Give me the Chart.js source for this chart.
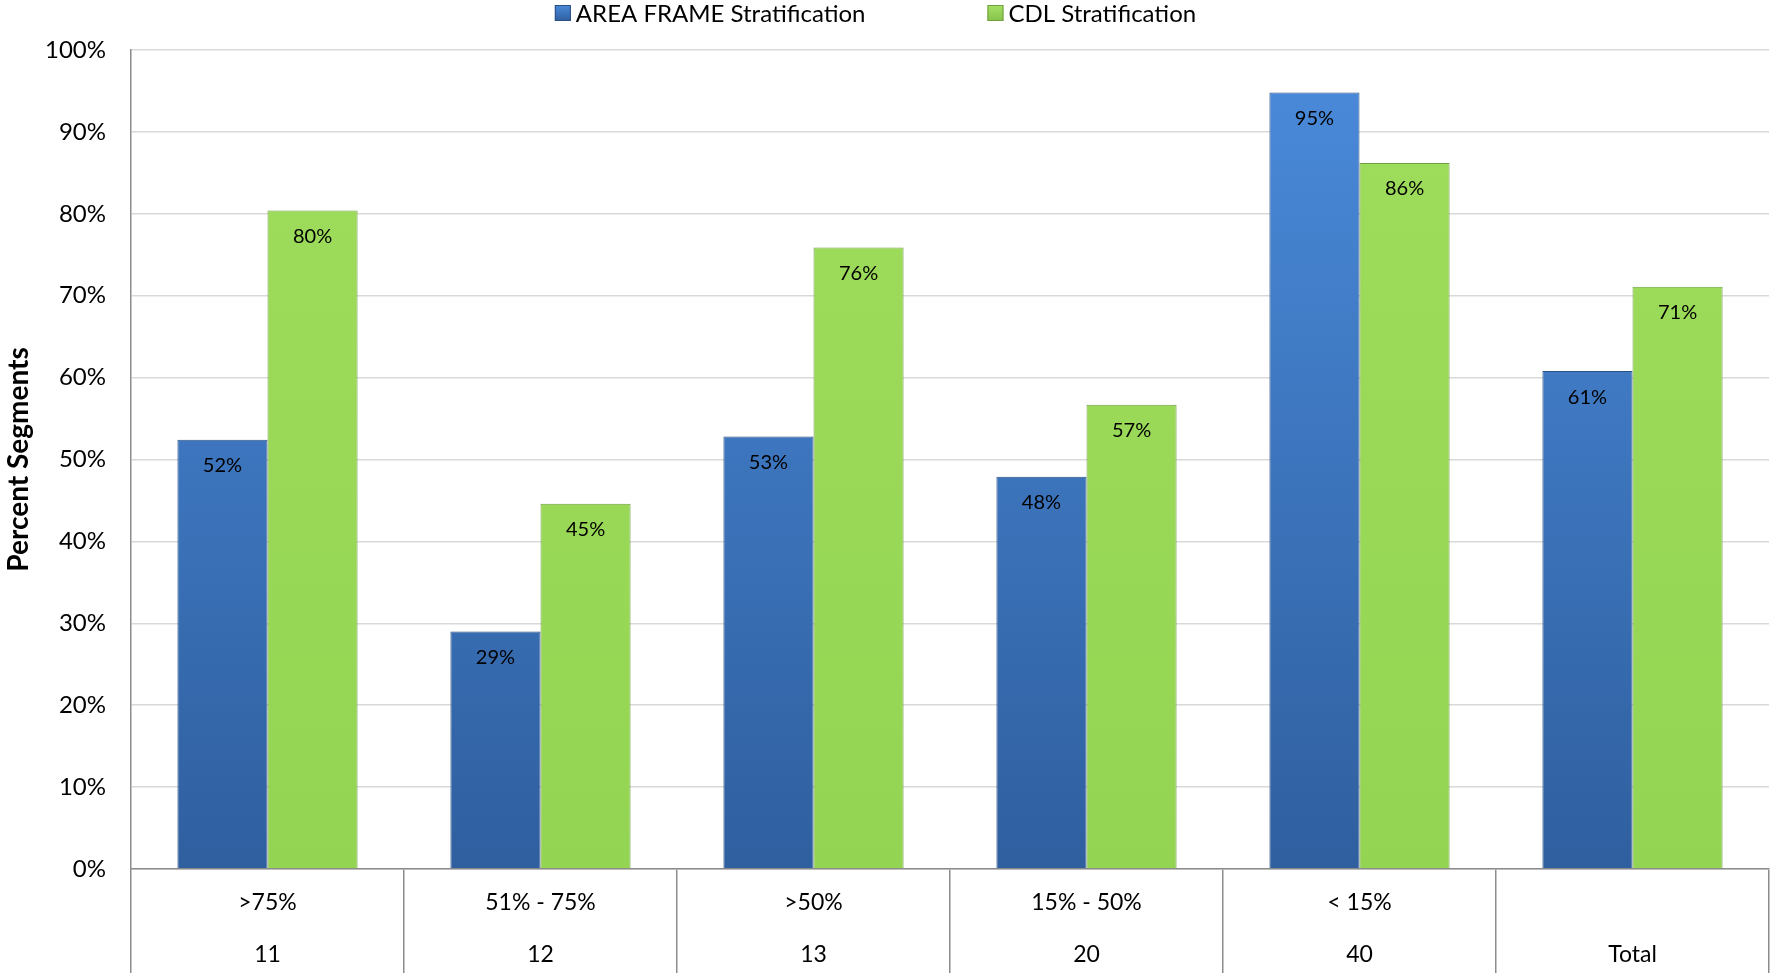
<!DOCTYPE html>
<html>
<head>
<meta charset="utf-8">
<script src="https://cdn.jsdelivr.net/npm/chart.js@4.4.0/dist/chart.umd.min.js"></script>
<style>
  html, body { margin: 0; padding: 0; background: #fff; }
</style>
</head>
<body>
<canvas id="chart" width="1771" height="973"></canvas>
<script>
// Chart data
const categories = [['>75%', '11'], ['51% - 75%', '12'], ['>50%', '13'], ['15% - 50%', '20'], ['< 15%', '40'], ['', 'Total']];
const areaFrameValues = [52.4, 29.0, 52.8, 47.9, 94.8, 60.8];
const cdlValues = [80.4, 44.6, 75.9, 56.7, 86.2, 71.1];
const seriesNames = ['AREA FRAME Stratification', 'CDL Stratification'];
const yMin = 0, yMax = 100, yStep = 10;

const FONT = 'Lato';

// Vertical gradient across the chart area
function barGradient(topColor, bottomColor) {
    return function(context) {
        const area = context.chart.chartArea;
        if (!area) return topColor;
        const g = context.chart.ctx.createLinearGradient(0, area.top, 0, area.bottom);
        g.addColorStop(0, topColor);
        g.addColorStop(1, bottomColor);
        return g;
    };
}

// Legend drawn in one row at the top
const topLegend = {
    id: 'topLegend',
    afterDraw(chart) {
        const ctx = chart.ctx;
        const box = 16, gap = 5, spacing = 122;
        ctx.save();
        ctx.font = '24px ' + FONT;
        const widths = chart.data.datasets.map(ds => box + gap + ctx.measureText(ds.label).width);
        const total = widths.reduce((a, b) => a + b, 0) + spacing * (widths.length - 1);
        let x = chart.width / 2 - 10 - total / 2;
        const y = 13;
        chart.data.datasets.forEach((ds, i) => {
            const g = ctx.createLinearGradient(0, y - box / 2, 0, y + box / 2);
            g.addColorStop(0, ds.legendTop);
            g.addColorStop(1, ds.legendBottom);
            ctx.fillStyle = g;
            ctx.fillRect(x, y - box / 2, box, box);
            ctx.strokeStyle = ds.borderColor;
            ctx.lineWidth = 1;
            ctx.strokeRect(x + 0.5, y - box / 2 + 0.5, box - 1, box - 1);
            ctx.fillStyle = '#000';
            ctx.textBaseline = 'middle';
            ctx.textAlign = 'left';
            ctx.fillText(ds.label, x + box + gap, y + 1);
            x += widths[i] + spacing;
        });
        ctx.restore();
    }
};

// Value labels inside the top of each bar
const barLabels = {
    id: 'barLabels',
    afterDatasetsDraw(chart) {
        const ctx = chart.ctx;
        ctx.save();
        ctx.font = '20px ' + FONT;
        ctx.fillStyle = '#000';
        ctx.textAlign = 'center';
        ctx.textBaseline = 'middle';
        chart.data.datasets.forEach((ds, i) => {
            chart.getDatasetMeta(i).data.forEach((bar, j) => {
                ctx.fillText(Math.round(ds.data[j]) + '%', bar.x, bar.y + 26);
            });
        });
        ctx.restore();
    }
};

const ctx = document.getElementById('chart').getContext('2d');
new Chart(ctx, {
    type: 'bar',
    data: {
        labels: categories,
        datasets: [
            {
                label: seriesNames[0],
                data: areaFrameValues,
                backgroundColor: barGradient('#4a8bdb', '#2f5f9f'),
                borderColor: '#2a4f82',
                borderWidth: 1,
                legendTop: '#4a8bdb',
                legendBottom: '#2f5f9f'
            },
            {
                label: seriesNames[1],
                data: cdlValues,
                backgroundColor: barGradient('#9fdd5c', '#93d552'),
                borderColor: '#6f9f3e',
                borderWidth: 1,
                legendTop: '#a6e064',
                legendBottom: '#86c24a'
            }
        ]
    },
    options: {
        responsive: false,
        animation: false,
        layout: { padding: { top: 50, right: 2, left: 0, bottom: 0 } },
        datasets: {
            bar: { categoryPercentage: 0.66, barPercentage: 1 }
        },
        plugins: {
            legend: { display: false },
            tooltip: { enabled: false }
        },
        scales: {
            x: {
                grid: {
                    drawOnChartArea: false,
                    drawTicks: true,
                    tickLength: 104,
                    color: '#8c8c8c',
                    lineWidth: 1.5
                },
                border: { color: '#8c8c8c', width: 1.5 },
                ticks: {
                    color: '#000',
                    font: { family: FONT, size: 23, lineHeight: 2.26 },
                    padding: -96,
                    maxRotation: 0,
                    autoSkip: false
                },
                afterFit: function(scale) { scale.height = 104; }
            },
            y: {
                min: yMin,
                max: yMax,
                grid: {
                    color: '#d9d9d9',
                    lineWidth: 1.5,
                    drawTicks: false
                },
                border: { color: '#8c8c8c', width: 1.5 },
                ticks: {
                    stepSize: yStep,
                    color: '#000',
                    padding: 25,
                    font: { family: FONT, size: 24 },
                    callback: function(value) { return value + '%'; }
                },
                title: {
                    display: true,
                    text: 'Percent Segments',
                    color: '#000',
                    font: { family: FONT, size: 28, weight: 'bold' },
                    padding: { top: 2, bottom: 0 }
                },
                afterFit: function(scale) { scale.width = 131; }
            }
        }
    },
    plugins: [topLegend, barLabels]
});
</script>
</body>
</html>
